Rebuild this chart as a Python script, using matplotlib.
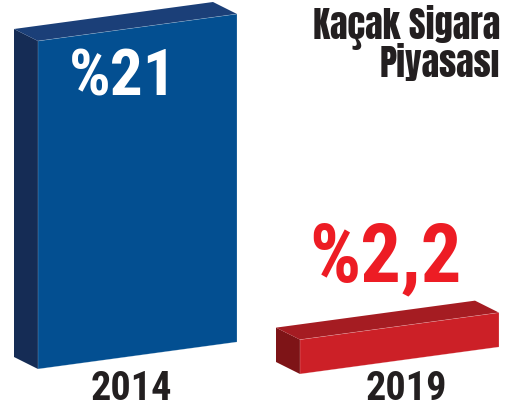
import numpy as np
import matplotlib.pyplot as plt
from matplotlib.patches import Polygon

# data
years = ["2014", "2019"]
shares = [21, 2.2]
title = ["Kaçak Sigara", "Piyasası"]

# style
front_cols = ["#034f91", "#cc2027"]
side_cols = ["#152c55", "#7e1417"]
top_cols = ["#1b3f78", "#a51c22"]
label_cols = ["white", "#ed1c24"]
dark = "#231f20"
NUM_FONT = ["Roboto Condensed", "DejaVu Sans"]
TITLE_FONT = ["Anton", "DejaVu Sans"]

# layout (pixel space, y down)
W, H = 510, 409
bar_x = [38, 300]
bar_base = [369, 374]
bar_w = 199
slope = 27 / 199
dx, dy = -24, -12
px_per_pct = 328 / 21


def faces(x0, yb, h):
    x1 = x0 + bar_w
    yr = yb - slope * bar_w
    front = [(x0, yb), (x1, yr), (x1, yr - h), (x0, yb - h)]
    side = [(x0 + dx, yb + dy), (x0, yb), (x0, yb - h), (x0 + dx, yb - h + dy)]
    top = [(x0, yb - h), (x1, yr - h), (x1 + dx, yr - h + dy), (x0 + dx, yb - h + dy)]
    return front, side, top


fig = plt.figure(figsize=(W / 100, H / 100), dpi=100)
ax = fig.add_axes([0, 0, 1, 1])
ax.set_xlim(0, W)
ax.set_ylim(H, 0)
ax.axis("off")

# label anchors: (x, baseline y, size)
lbl_pos = [(123, 96, 47), (386, 281, 58)]
year_pos = [(131, 400), (406, 400)]

for i, (yr_lbl, v) in enumerate(zip(years, shares)):
    h = v * px_per_pct
    front, side, top = faces(bar_x[i], bar_base[i], h)
    ax.add_patch(Polygon(side, closed=True, fc=side_cols[i], ec="none"))
    ax.add_patch(Polygon(top, closed=True, fc=top_cols[i], ec="none"))
    ax.add_patch(Polygon(front, closed=True, fc=front_cols[i], ec="none"))
    # thin light edge on the front face
    xs = [p[0] for p in front] + [front[0][0]]
    ys = [p[1] for p in front] + [front[0][1]]
    ax.plot(xs, ys, color="white", lw=0.4, alpha=0.35)

    lbl = "%" + f"{v:g}".replace(".", ",")
    lx, ly, fs = lbl_pos[i]
    ax.text(lx, ly, lbl, color=label_cols[i], fontsize=fs, fontweight="black",
            family=NUM_FONT, ha="center", va="baseline")
    ax.text(year_pos[i][0], year_pos[i][1], yr_lbl, color=dark, fontsize=29,
            fontweight="black", family=NUM_FONT, ha="center", va="baseline")

ax.text(500, 39, title[0], color=dark, fontsize=26, family=TITLE_FONT,
        ha="right", va="baseline")
ax.text(500, 77, title[1], color=dark, fontsize=26, family=TITLE_FONT,
        ha="right", va="baseline")

fig.savefig("out.png", dpi=100)
